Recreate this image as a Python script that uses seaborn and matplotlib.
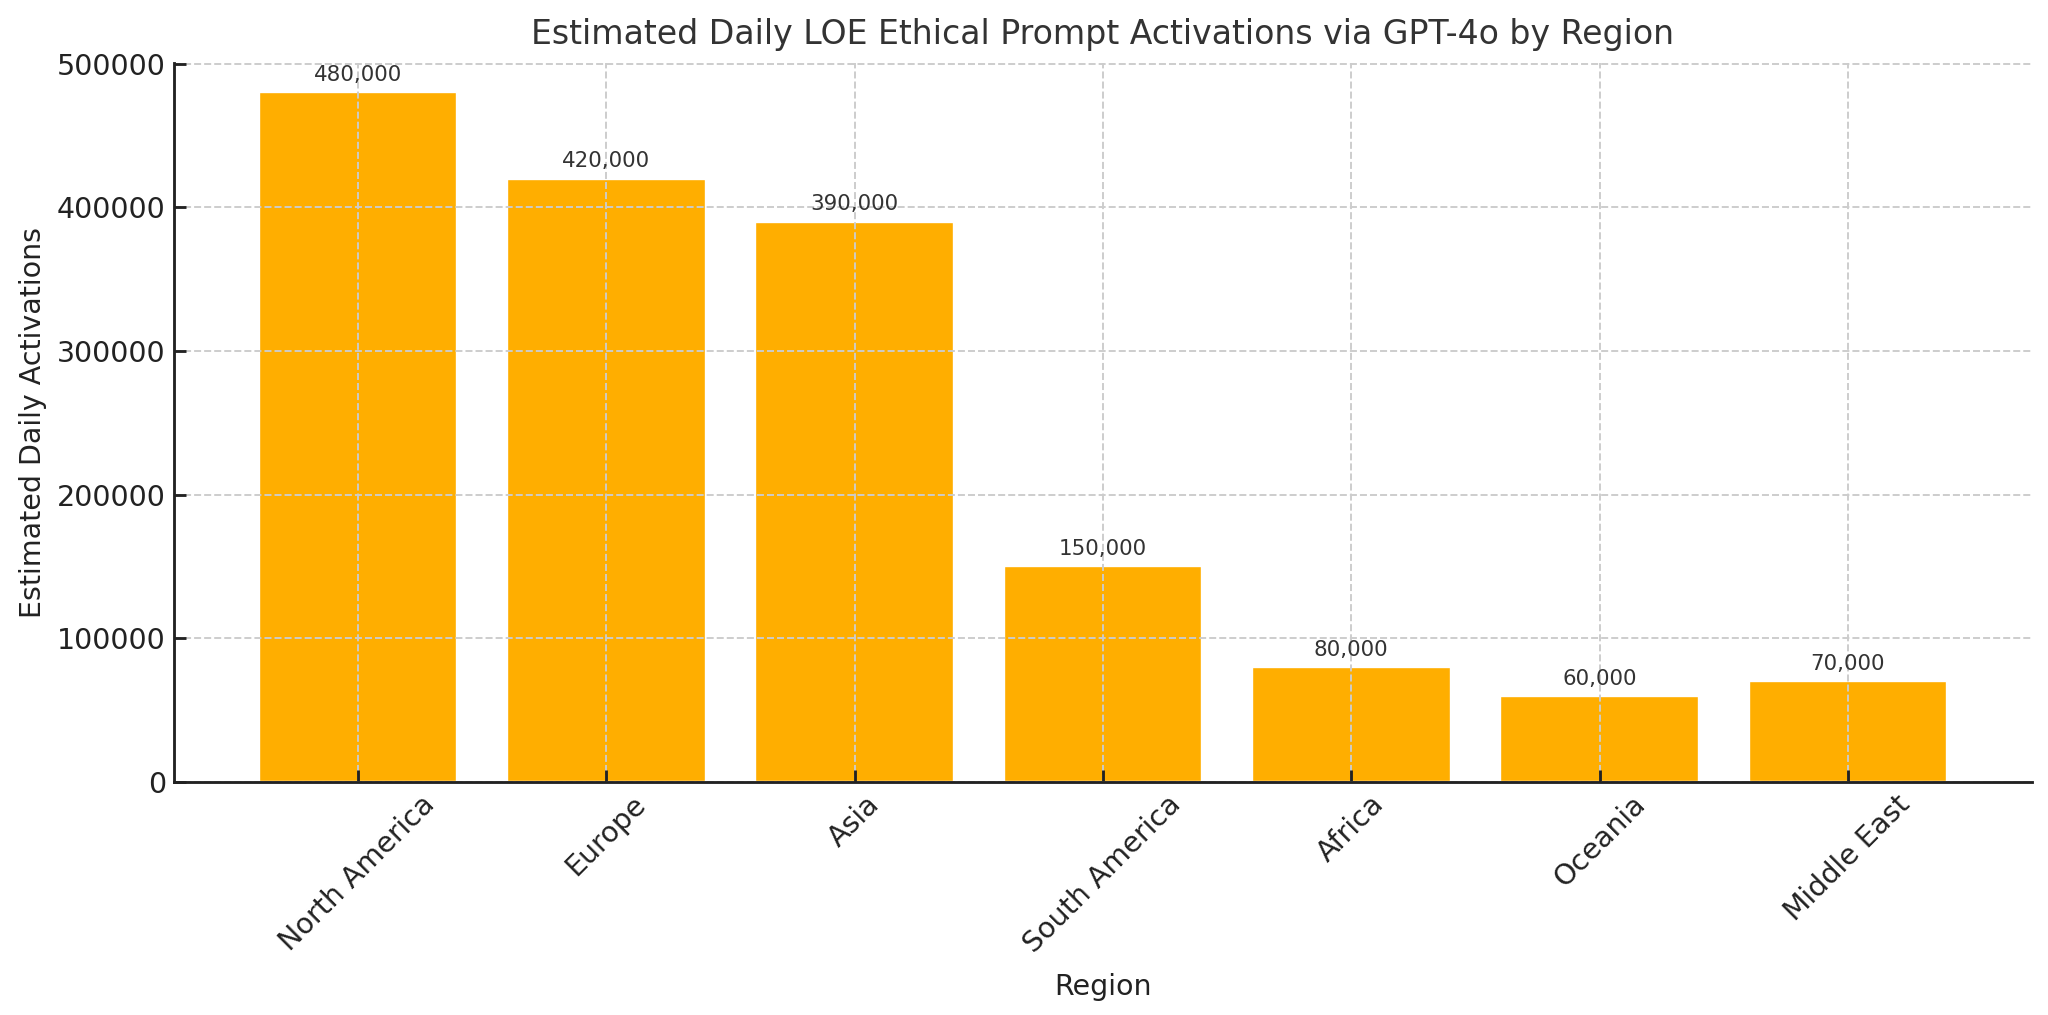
import pandas as pd
import seaborn as sns
import matplotlib.pyplot as plt

regions = ["North America", "Europe", "Asia", "South America", "Africa", "Oceania", "Middle East"]
activations = [480000, 420000, 390000, 150000, 80000, 60000, 70000]


def main():
    data = pd.DataFrame({"Region": regions, "Activations": activations})

    sns.set_theme(style="ticks")
    plt.rcParams['font.family'] = ['DejaVu Sans']

    dpi = 2048 / 12
    fig, ax = plt.subplots(figsize=(12, 1015 / dpi), dpi=dpi)
    fig.subplots_adjust(left=0.085, right=0.992, top=0.938, bottom=0.2296)

    sns.barplot(data=data, x="Region", y="Activations", color="#FFAE00",
                saturation=1, width=0.8, ax=ax)

    # value labels above each bar
    for i, v in enumerate(activations):
        ax.text(i, v + 5000, f"{v:,}", ha='center', va='bottom',
                fontsize=9, color='#333333')

    ax.set_title("Estimated Daily LOE Ethical Prompt Activations via GPT-4o by Region",
                 fontsize=14, color='#333333', pad=8)
    ax.set_xlabel("Region", fontsize=12, color='#222222', labelpad=6)
    ax.set_ylabel("Estimated Daily Activations", fontsize=12, color='#222222')

    ax.set_xlim(-0.74, 6.74)
    ax.set_ylim(0, 500500)
    ax.set_yticks([0, 100000, 200000, 300000, 400000, 500000])
    ax.set_yticklabels(["0", "100000", "200000", "300000", "400000", "500000"])
    ax.tick_params(axis='both', direction='in', labelsize=12, colors='#222222',
                   length=5, width=1.2)
    plt.setp(ax.get_xticklabels(), rotation=45)

    ax.grid(True, linestyle='--', color='#cccccc', linewidth=0.8)
    ax.set_axisbelow(False)
    for b in ax.patches:
        b.set_zorder(1)
    sns.despine(ax=ax)
    for s in ('left', 'bottom'):
        ax.spines[s].set_linewidth(1.2)
        ax.spines[s].set_color('#222222')
        ax.spines[s].set_zorder(5)

    plt.savefig('out.png', dpi=dpi)


if __name__ == "__main__":
    main()
